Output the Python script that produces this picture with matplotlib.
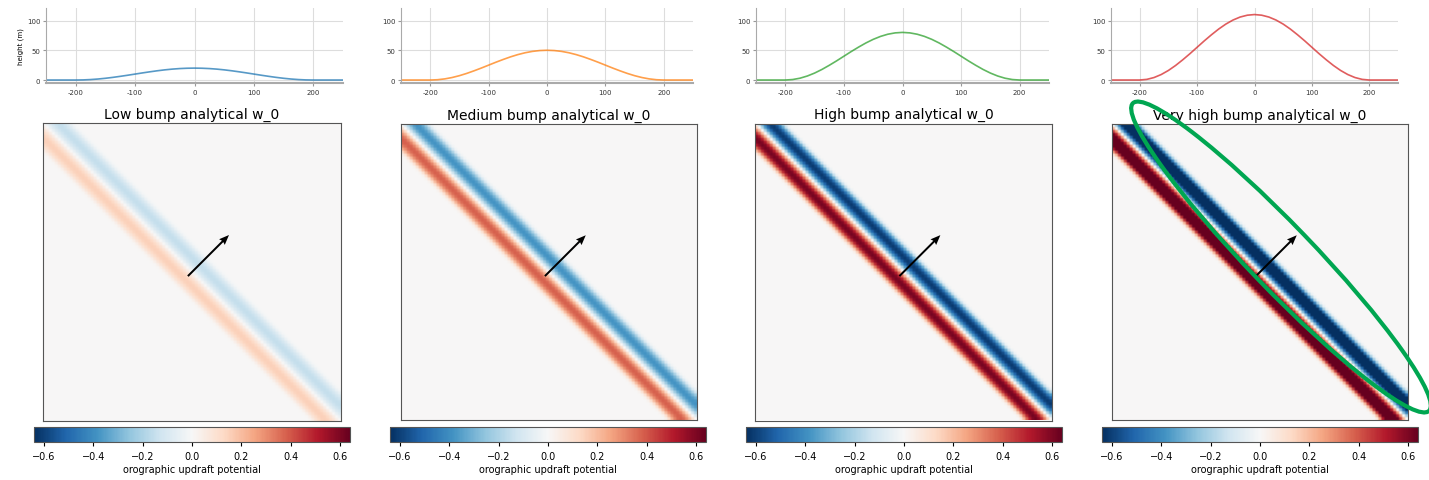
import numpy as np
import matplotlib.pyplot as plt
from matplotlib.patches import Ellipse

# values
titles = ['Low bump analytical w_0', 'Medium bump analytical w_0',
          'High bump analytical w_0', 'Very high bump analytical w_0']
peak_heights = [20, 50, 80, 110]
line_colors = ['tab:blue', 'tab:orange', 'tab:green', 'tab:red']
profile_x = [-250 + 12.5 * k for k in range(41)]
half_shape = [1.0, 0.99, 0.962, 0.916, 0.854, 0.778, 0.691, 0.598, 0.5,
              0.402, 0.309, 0.222, 0.146, 0.084, 0.038, 0.01, 0, 0, 0, 0, 0]
profile_shape = half_shape[:0:-1] + half_shape
xticks_top = [-200, -100, 0, 100, 200]
yticks_top = [0, 50, 100]
cbar_ticks = [-0.6, -0.4, -0.2, 0.0, 0.2, 0.4, 0.6]
wind_u, wind_v = 0.707, 0.707
arrow_x, arrow_y = -40, -40
vlim = 0.64

W, H = 1429, 481
fig = plt.figure(figsize=(W / 100, H / 100), dpi=100)


def px(l, t, r, b):
    return [l / W, 1 - b / H, (r - l) / W, (b - t) / H]


top_boxes = [(46, 9, 343, 84), (401, 9, 693, 84), (756, 9, 1049, 84), (1111, 9, 1398, 84)]
img_boxes = [(43, 124, 341, 422), (401, 124, 697, 422), (755, 124, 1052, 422), (1112, 124, 1408, 422)]
cb_boxes = [(34, 428, 350, 443), (390, 428, 706, 443), (746, 428, 1062, 443), (1102, 428, 1418, 443)]

# grid for the w_0 field
n = 100
cell = 29.0
xs = (np.arange(n) - (n - 1) / 2) * cell
X, Y = np.meshgrid(xs, xs)
speed = np.hypot(wind_u, wind_v)
s = (X * wind_u + Y * wind_v) / speed
half = n * cell / 2

for i in range(4):
    # bump profile
    ax = fig.add_axes(px(*top_boxes[i]))
    prof = [peak_heights[i] * f for f in profile_shape]
    ax.plot(profile_x, prof, color=line_colors[i], lw=1.2, alpha=0.75)
    ax.set_xlim(-250, 250)
    ax.set_ylim(-5, 121)
    ax.set_xticks(xticks_top)
    ax.set_xticklabels([str(v) for v in xticks_top])
    ax.set_yticks(yticks_top)
    ax.set_yticklabels([str(v) for v in yticks_top])
    ax.tick_params(labelsize=5, length=2, color='#999999', labelcolor='#333333', pad=2)
    ax.grid(True, color='#dddddd', lw=0.8)
    for sp in ['top', 'right']:
        ax.spines[sp].set_visible(False)
    ax.spines['left'].set_color('#aaaaaa')
    ax.spines['bottom'].set_color('#aaaaaa')
    ax.spines['bottom'].set_linewidth(1.5)
    if i == 0:
        ax.set_ylabel('height (m)', fontsize=5, labelpad=2)

    # w_0 field
    h = peak_heights[i] * np.interp(s, profile_x, profile_shape)
    dhdy, dhdx = np.gradient(h, cell, cell)
    w0 = wind_u * dhdx + wind_v * dhdy
    axi = fig.add_axes(px(*img_boxes[i]))
    im = axi.imshow(w0, origin='lower', extent=[-half, half, -half, half],
                    cmap='RdBu_r', vmin=-vlim, vmax=vlim)
    axi.quiver(arrow_x, arrow_y, wind_u, wind_v, angles='xy', scale_units='xy',
               scale=wind_u / 400, width=0.0067, headwidth=4, headlength=5,
               headaxislength=4.5, color='k')
    axi.set_xticks([])
    axi.set_yticks([])
    for sp in axi.spines.values():
        sp.set_color('#555555')
    axi.set_title(titles[i], fontsize=10, pad=4)

    cax = fig.add_axes(px(*cb_boxes[i]))
    cb = fig.colorbar(im, cax=cax, orientation='horizontal')
    cb.set_ticks(cbar_ticks)
    cb.ax.tick_params(labelsize=7, length=3)
    cb.set_label('orographic updraft potential', fontsize=7, labelpad=2)
    cb.outline.set_edgecolor('#555555')

# hand-drawn green ellipse on the last panel
ell = Ellipse((12.81, (H - 258) / 100), 4.27, 0.64, angle=-46.1,
              transform=fig.dpi_scale_trans, fill=False,
              edgecolor='#00a651', lw=3.0, zorder=10)
fig.add_artist(ell)

fig.savefig('out.png', dpi=100)
